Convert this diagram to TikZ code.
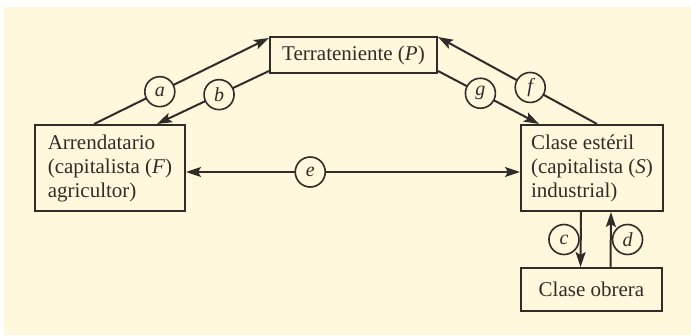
\documentclass[tikz,border=0pt]{standalone}
\usepackage{fontspec}
\setmainfont{Liberation Serif}
\usetikzlibrary{arrows.meta}
\definecolor{paper}{RGB}{255,248,220}
\definecolor{ink}{RGB}{48,44,40}
\begin{document}
\begin{tikzpicture}[x=1pt,y=-1pt,
  box/.style={draw=ink, line width=2pt, inner sep=0pt, align=left, text=ink,
    font=\fontsize{21}{24}\selectfont},
  circ/.style={circle, draw=ink, fill=paper, line width=1.6pt, minimum size=30pt,
    inner sep=0pt, text=ink, font=\fontsize{20}{20}\selectfont\itshape},
  tip/.style={Stealth[length=15pt,width=10pt,inset=3pt]},
  arr/.style={draw=ink, line width=2pt, -{Stealth[length=15pt,width=10pt,inset=3pt]}},
  both/.style={draw=ink, line width=2pt, {Stealth[length=15pt,width=10pt,inset=3pt]}-{Stealth[length=15pt,width=10pt,inset=3pt]}}]
\useasboundingbox (0,0) rectangle (691,335);
\fill[white] (0,0) rectangle (691,335);
\fill[paper] (4,7) rectangle (691,335);

\node[box, minimum width=167pt, minimum height=36pt] (T) at (353.5,55) {Terrateniente (\textit{P})};
\node[box, minimum width=150pt, minimum height=86pt] (A) at (110,168) {Arrendatario\\(capitalista (\textit{F})\\agricultor)};
\node[box, minimum width=142pt, minimum height=86pt] (S) at (592,168) {Clase estéril\\(capitalista (\textit{S})\\industrial)};
\node[box, minimum width=141pt, minimum height=43pt] (O) at (591.5,289.5) {Clase obrera};

% a: Arrendatario -> Terrateniente
\draw[arr] ([xshift=60pt]A.north west) -- ([yshift=-2pt]T.north west)
  node[circ, pos=0.376] (ca) {a};
% b: Terrateniente -> Arrendatario
\draw[arr] ([yshift=3pt]T.south west) -- ([xshift=123pt]A.north west)
  node[circ, pos=0.446] (cb) {b};
% g: Terrateniente -> Clase esteril
\draw[arr] ([yshift=3pt]T.south east) -- ([xshift=19pt]S.north west)
  node[circ, pos=0.42] (cg) {g};
% f: Clase esteril -> Terrateniente
\draw[arr] ([xshift=77pt]S.north west) -- ([yshift=-1pt]T.north east)
  node[circ, pos=0.42] (cf) {f};
% e: between Arrendatario and Clase esteril
\draw[both] ([yshift=-4pt]A.east) -- ([yshift=-4pt]S.west)
  node[circ, pos=0.372] (ce) {e};
% c: Clase esteril -> Clase obrera
\draw[arr] ([xshift=-11pt]S.south) -- ([xshift=-11pt]O.north)
  node[circ, pos=0.5, anchor=east, xshift=-1pt] (cc) {c};
% d: Clase obrera -> Clase esteril
\draw[arr] ([xshift=19pt]O.north) -- ([xshift=19pt]S.south)
  node[circ, pos=0.5, anchor=west, xshift=1pt] (cd) {d};
\end{tikzpicture}
\end{document}
